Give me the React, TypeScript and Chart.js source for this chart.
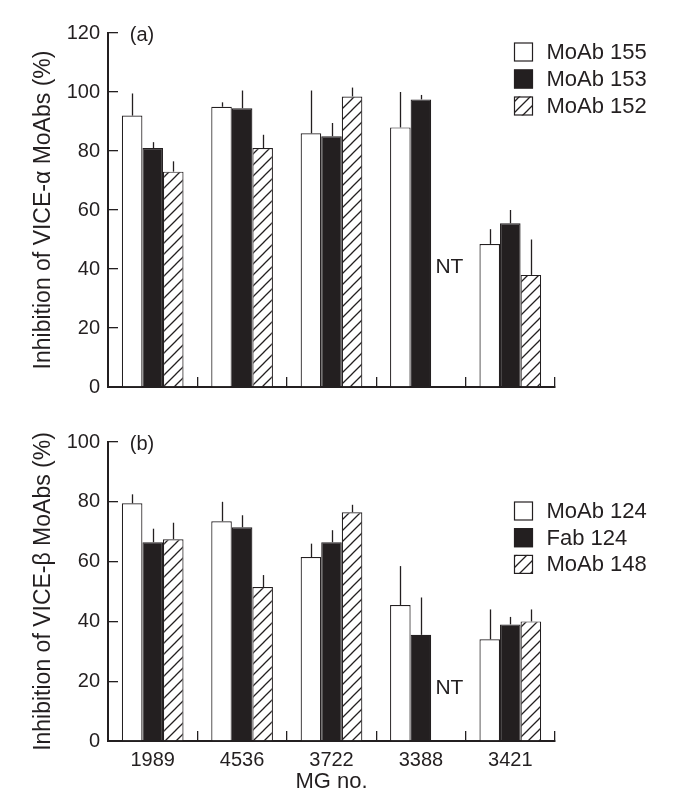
import React, { useEffect, useRef } from 'react';
import { Chart, registerables } from 'chart.js';

Chart.register(...registerables);

// ---------- data ----------
const CATEGORIES = ['1989', '4536', '3722', '3388', '3421'];
const X_TITLE = 'MG no.';

// Panel (a): VICE-alpha MoAbs
const A_TITLE = 'Inhibition of VICE-\u03b1 MoAbs (%)';
const A_LABELS = ['MoAb 155', 'MoAb 153', 'MoAb 152'];
const A_MOAB155 = [92, 95, 86, 88, 48.5];
const A_MOAB153 = [81, 94.5, 85, 97.5, 55.5];
const A_MOAB152 = [73, 81, 98.5, null, 38];
const A_ERR155 = [7.5, 1.5, 14.5, 12, 5];
const A_ERR153 = [2, 6, 4.5, 1.5, 4.5];
const A_ERR152 = [3.5, 4.5, 3, null, 12];
const A_TICKS_MAX = 120;

// Panel (b): VICE-beta MoAbs
const B_TITLE = 'Inhibition of VICE-\u03b2 MoAbs (%)';
const B_LABELS = ['MoAb 124', 'Fab 124', 'MoAb 148'];
const B_MOAB124 = [79.5, 73.5, 61.5, 45.5, 34];
const B_FAB124 = [66.5, 71.5, 66.5, 35.5, 39];
const B_MOAB148 = [67.5, 51.5, 76.5, null, 40];
const B_ERR124 = [3, 6.5, 4.5, 13, 10];
const B_ERRFAB = [4.5, 4, 4, 12.5, 2.5];
const B_ERR148 = [5.5, 4, 2.5, null, 4];
const B_TICKS_MAX = 100;

const NT_TEXT = 'NT';

// ---------- style ----------
const INK = '#231f20';
const FONT = "'Liberation Sans', Arial, Helvetica, sans-serif";

function makeHatch(): any {
  const s = 11;
  const c = document.createElement('canvas');
  c.width = s;
  c.height = s;
  const g = c.getContext('2d')!;
  g.fillStyle = '#ffffff';
  g.fillRect(0, 0, s, s);
  g.strokeStyle = INK;
  g.lineWidth = 1.3;
  g.beginPath();
  g.moveTo(-1, s + 1);
  g.lineTo(s + 1, -1);
  g.moveTo(-2, 2);
  g.lineTo(2, -2);
  g.moveTo(s - 2, s + 2);
  g.lineTo(s + 2, s - 2);
  g.stroke();
  return g.createPattern(c, 'repeat');
}

const errorBarPlugin = {
  id: 'errorBars',
  afterDatasetsDraw(chart: any) {
    const ctx = chart.ctx;
    const y = chart.scales.y;
    ctx.save();
    ctx.strokeStyle = INK;
    ctx.lineWidth = 1.3;
    chart.data.datasets.forEach((ds: any, i: number) => {
      const meta = chart.getDatasetMeta(i);
      meta.data.forEach((bar: any, j: number) => {
        const v = ds.data[j];
        const e = ds.errors ? ds.errors[j] : null;
        if (v == null || e == null) return;
        const x = Math.round(bar.x) + 0.5;
        ctx.beginPath();
        ctx.moveTo(x, bar.y);
        ctx.lineTo(x, y.getPixelForValue(v + e));
        ctx.stroke();
      });
    });
    ctx.restore();
  },
};

const decoPlugin = {
  id: 'deco',
  afterDraw(chart: any, _args: any, opts: any) {
    const ctx = chart.ctx;
    const area = chart.chartArea;
    const xs = chart.scales.x;
    const ys = chart.scales.y;
    ctx.save();
    ctx.fillStyle = INK;
    // panel tag
    ctx.font = `20px ${FONT}`;
    ctx.textAlign = 'center';
    ctx.textBaseline = 'middle';
    ctx.fillText(opts.tag, area.left + 34, area.top + 2);
    // NT annotation
    ctx.font = `21px ${FONT}`;
    ctx.fillText(NT_TEXT, xs.getPixelForValue(opts.ntIndex) + 28.5, ys.getPixelForValue(opts.ntValue));
    // legend
    const bx = area.left + 406;
    chart.data.datasets.forEach((ds: any, i: number) => {
      const by = area.top + opts.legendTop + i * opts.legendPitch;
      ctx.fillStyle = ds.backgroundColor;
      ctx.fillRect(bx, by, 19, 19);
      ctx.strokeStyle = INK;
      ctx.lineWidth = 1.2;
      ctx.strokeRect(bx + 0.5, by + 0.5, 18, 18);
      ctx.fillStyle = INK;
      ctx.font = `22px ${FONT}`;
      ctx.textAlign = 'left';
      ctx.textBaseline = 'middle';
      ctx.fillText(ds.label, area.left + 438.5, by + 10.5);
    });
    ctx.restore();
  },
};

type PanelProps = {
  top: number;
  height: number;
  padTop: number;
  xHeight: number;
  yMax: number;
  yTitle: string;
  tag: string;
  labels: string[];
  series: (number | null)[][];
  errors: (number | null)[][];
  ntIndex: number;
  ntValue: number;
  legendTop: number;
  legendPitch: number;
  showX: boolean;
};

function Panel(p: PanelProps) {
  const ref = useRef<HTMLCanvasElement>(null);
  useEffect(() => {
    const hatch = makeHatch();
    const fills = ['#ffffff', INK, hatch];
    const chart = new Chart(ref.current!, {
      type: 'bar',
      data: {
        labels: CATEGORIES,
        datasets: p.series.map((d, i) => ({
          label: p.labels[i],
          data: d,
          errors: p.errors[i],
          backgroundColor: fills[i],
          borderColor: INK,
          borderWidth: 1.2,
          categoryPercentage: 0.69,
          barPercentage: 1,
        })) as any,
      },
      options: {
        responsive: false,
        animation: false,
        devicePixelRatio: 1,
        layout: { padding: { top: p.padTop, right: 121, left: 0, bottom: 0 } },
        plugins: {
          legend: { display: false },
          tooltip: { enabled: false },
          deco: {
            tag: p.tag,
            ntIndex: p.ntIndex,
            ntValue: p.ntValue,
            legendTop: p.legendTop,
            legendPitch: p.legendPitch,
          },
        } as any,
        scales: {
          x: {
            offset: true,
            afterFit: (s: any) => {
              s.height = p.xHeight;
              s.paddingLeft = 0;
              s.paddingRight = 0;
            },
            grid: {
              offset: true,
              drawOnChartArea: false,
              drawTicks: true,
              tickLength: -10,
              color: INK,
              lineWidth: 1.3,
            },
            border: { display: true, color: INK, width: 2 },
            ticks: {
              display: p.showX,
              color: INK,
              font: { family: FONT, size: 20 },
              padding: 17,
              maxRotation: 0,
            },
            title: {
              display: p.showX,
              text: X_TITLE,
              color: INK,
              font: { family: FONT, size: 22 },
              padding: { top: 0, bottom: 14 },
            },
          },
          y: {
            min: 0,
            max: p.yMax,
            afterFit: (s: any) => {
              s.width = 108;
              s.paddingTop = 0;
              s.paddingBottom = 0;
            },
            grid: {
              drawOnChartArea: false,
              drawTicks: true,
              tickLength: -10,
              color: INK,
              lineWidth: 1.3,
            },
            border: { display: true, color: INK, width: 2 },
            ticks: {
              stepSize: 20,
              color: INK,
              font: { family: FONT, size: 20 },
              padding: 18,
            },
            title: {
              display: true,
              text: p.yTitle,
              color: INK,
              font: { family: FONT, size: 23 },
              padding: { top: 30, bottom: 0 },
            },
          },
        },
      },
      plugins: [errorBarPlugin, decoPlugin],
    });
    return () => chart.destroy();
  }, []);
  return (
    <canvas
      ref={ref}
      width={676}
      height={p.height}
      style={{ position: 'absolute', left: 0, top: p.top, width: 676, height: p.height }}
    />
  );
}

export default function App() {
  return (
    <div style={{ position: 'absolute', left: 0, top: 0, width: 676, height: 809, background: '#fff' }}>
      <Panel
        top={0}
        height={400}
        padTop={33}
        xHeight={13}
        yMax={A_TICKS_MAX}
        yTitle={A_TITLE}
        tag="(a)"
        labels={A_LABELS}
        series={[A_MOAB155, A_MOAB153, A_MOAB152]}
        errors={[A_ERR155, A_ERR153, A_ERR152]}
        ntIndex={3}
        ntValue={40.5}
        legendTop={9.5}
        legendPitch={27}
        showX={false}
      />
      <Panel
        top={400}
        height={409}
        padTop={42}
        xHeight={68}
        yMax={B_TICKS_MAX}
        yTitle={B_TITLE}
        tag="(b)"
        labels={B_LABELS}
        series={[B_MOAB124, B_FAB124, B_MOAB148]}
        errors={[B_ERR124, B_ERRFAB, B_ERR148]}
        ntIndex={3}
        ntValue={17.5}
        legendTop={59.5}
        legendPitch={26.7}
        showX={true}
      />
    </div>
  );
}
